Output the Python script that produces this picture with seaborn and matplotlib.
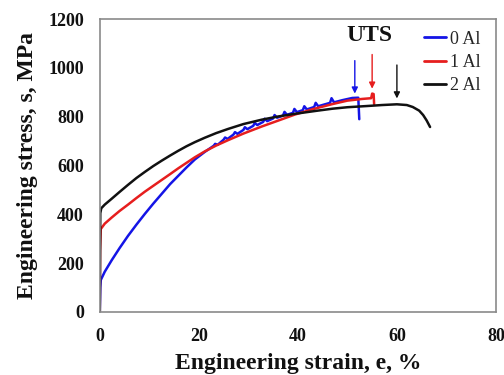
import matplotlib
matplotlib.use("Agg")
import matplotlib.pyplot as plt
import seaborn as sns
import pandas as pd
from matplotlib.ticker import MultipleLocator

# ---- data ----
blue_x = [0, 0.1, 0.2, 1.0, 2.4, 4.0, 5.7, 7.4, 9.1, 10.8, 12.5, 14.2, 15.8,
          17.5, 19.2, 21.2,
          23, 23.3, 23.8, 25, 25.3, 25.8, 27, 27.3, 27.8, 29, 29.3, 29.8,
          31, 31.3, 31.8, 33, 33.3, 33.8, 35, 35.3, 35.8, 37, 37.3, 37.8,
          39, 39.3, 39.8, 41, 41.3, 41.8, 43.3, 43.6, 44.1, 46.5, 46.8, 47.3,
          49, 51, 52.2, 52.3, 52.4]
blue_y = [0, 100, 131, 165, 212, 262, 312, 358, 402, 444, 484, 524, 557,
          592, 625, 656,
          681, 689, 685, 706, 715, 709, 727, 737, 730, 746, 757, 749,
          763, 775, 766, 779, 792, 782, 793, 807, 796, 805, 820, 808,
          816, 832, 819, 827, 843, 830, 840, 857, 843, 857, 876, 859,
          868, 877, 878, 835, 790]

red_x = [0, 0.05, 0.2, 1.0, 2.4, 4.0, 5.7, 7.4, 9.1, 10.8, 12.5, 14.2, 15.8,
         17.5, 19.2, 21.2, 23.5, 25.9, 29, 32.7, 36, 39.4, 43, 47, 50, 53,
         54.8, 55.0, 55.3, 55.4]
red_y = [0, 250, 340, 362, 387, 414, 440, 467, 493, 517, 541, 565, 588,
         611, 634, 658, 682, 704, 731, 760, 784, 809, 831, 852, 866, 873,
         876, 895, 893, 852]

black_x = [0, 0.1, 0.3, 1.0, 2.4, 4.0, 5.7, 7.4, 9.1, 10.8, 12.5, 14.2,
           15.8, 17.5, 19.2, 21.2, 23.5, 25.9, 29, 32.7, 36, 39.4, 44, 47,
           50, 54, 57, 60, 62, 63.2, 64.5, 65.3, 66, 66.7]
black_y = [0, 405, 425, 440, 464, 492, 521, 549, 574, 598, 620, 641,
           660, 679, 696, 714, 733, 750, 770, 788, 801, 812, 825, 833,
           839, 844, 848, 851, 848, 840, 825, 807, 785, 758]

series_labels = ["0 Al", "1 Al", "2 Al"]
series_colors = ["#1414e6", "#e61e1e", "#111111"]

# UTS arrows: x position, top, bottom
arrow_x = [51.5, 55.0, 60.0]
arrow_top = [1030, 1055, 1012]
arrow_bot = [895, 915, 875]

x_ticks = [0, 20, 40, 60, 80]
y_ticks = [0, 200, 400, 600, 800, 1000, 1200]

# ---- plot ----
sns.set_theme(style="white")
plt.rcParams["font.family"] = ["Liberation Serif", "DejaVu Serif"]

fig = plt.figure(figsize=(5.04, 3.75), dpi=100)
ax = fig.add_axes([0.198, 0.168, 0.786, 0.781])

frames = []
for xs, ys, lab in zip([blue_x, red_x, black_x], [blue_y, red_y, black_y], series_labels):
    frames.append(pd.DataFrame({"strain": xs, "stress": ys, "alloy": lab}))
df = pd.concat(frames, ignore_index=True)

sns.lineplot(data=df, x="strain", y="stress", hue="alloy", palette=series_colors,
             sort=False, estimator=None, linewidth=1.8, ax=ax, legend=True)

for xa, yt, yb, c in zip(arrow_x, arrow_top, arrow_bot, series_colors):
    ax.annotate("", xy=(xa, yb), xytext=(xa, yt),
                arrowprops=dict(arrowstyle="-|>", color=c, lw=1.0,
                                mutation_scale=9, shrinkA=0, shrinkB=0))

ax.text(54.5, 1132, "UTS", ha="center", va="center", fontsize=17,
        fontweight="bold", color="#111111")

ax.set_xlim(0, 80)
ax.set_ylim(0, 1200)
ax.set_xticks(x_ticks)
ax.set_yticks(y_ticks)
ax.xaxis.set_minor_locator(MultipleLocator(10))
ax.yaxis.set_minor_locator(MultipleLocator(100))
ax.tick_params(axis="both", which="major", direction="inout", length=5,
               width=1.0, color="#555555", labelsize=13, pad=9)
ax.tick_params(axis="both", which="minor", direction="in", length=3,
               width=1.0, color="#555555")
for lab in ax.get_xticklabels() + ax.get_yticklabels():
    lab.set_fontweight("bold")
    lab.set_color("#111111")

for s in ax.spines.values():
    s.set_color("#8a8a8a")
    s.set_linewidth(1.2)

ax.set_xlabel("Engineering strain, e, %", fontsize=17, fontweight="bold",
              color="#111111", labelpad=6)
ax.set_ylabel("Engineering stress, s, MPa", fontsize=17, fontweight="bold",
              color="#111111", labelpad=7)

leg = ax.legend(loc="upper left", bbox_to_anchor=(0.80, 0.985), frameon=False,
                fontsize=13, handlelength=1.2, handletextpad=0.25,
                labelspacing=0.35, borderaxespad=0)
for line in leg.get_lines():
    line.set_linewidth(2.0)

fig.savefig("out.png", dpi=100)
